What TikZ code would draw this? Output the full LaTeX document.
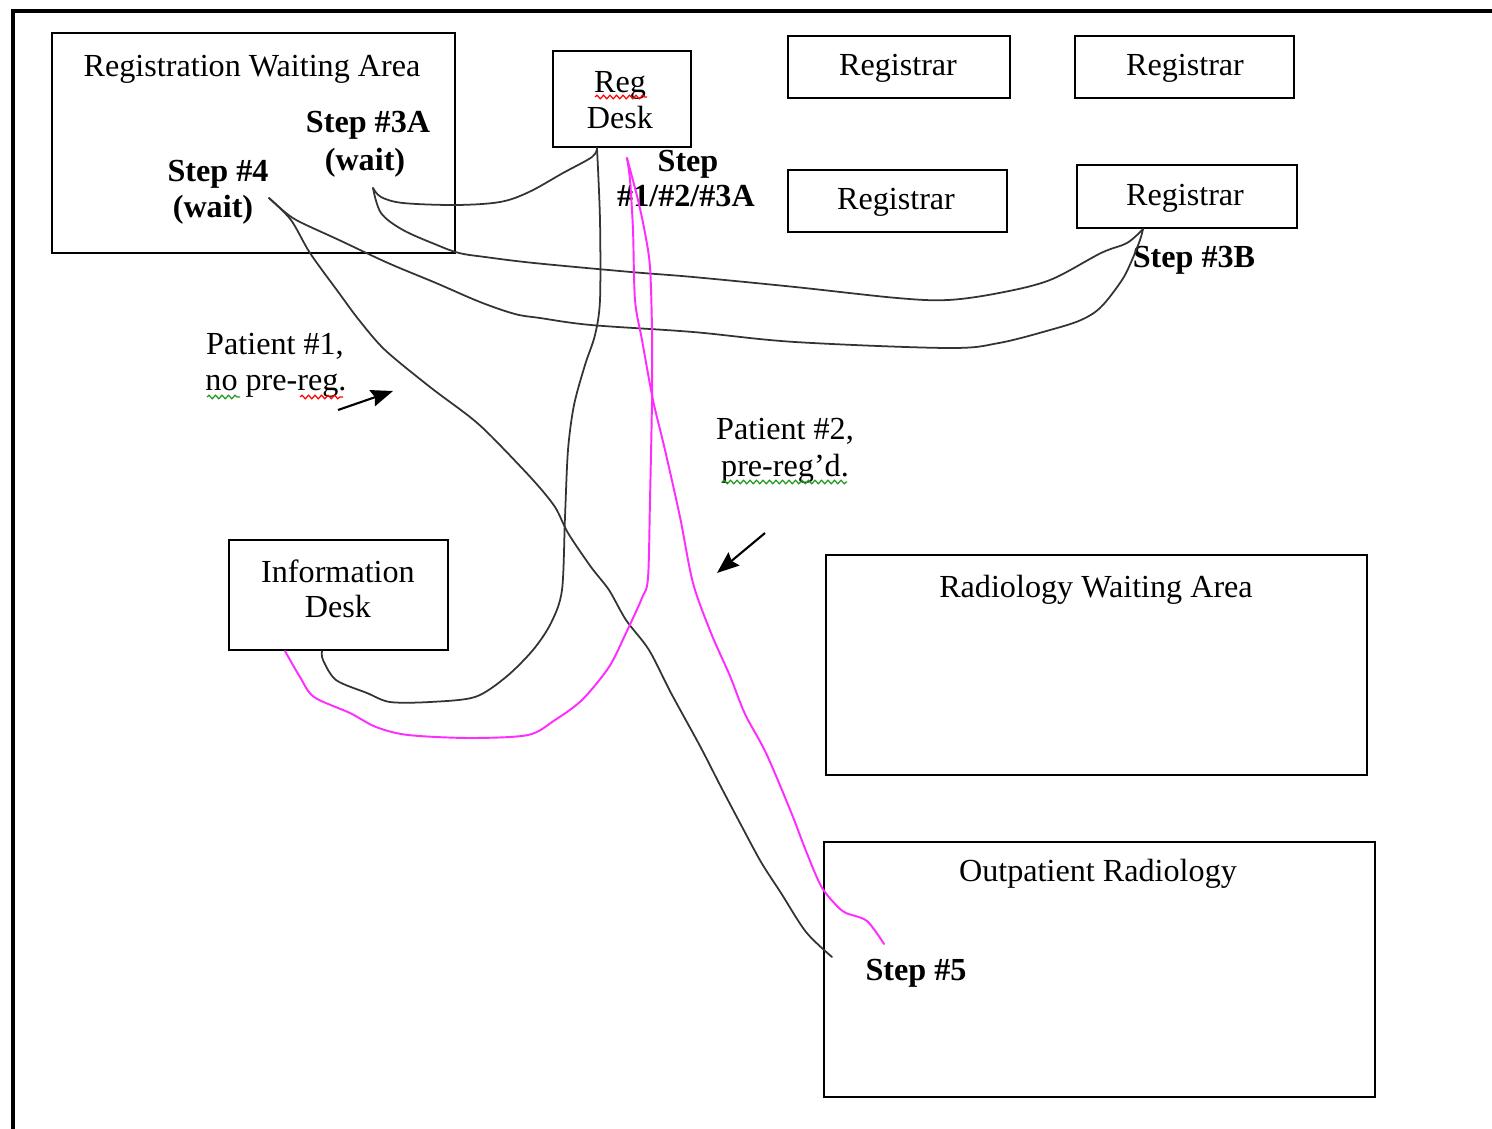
\documentclass[tikz,border=0pt]{standalone}
\usepackage{fontspec}
\setmainfont{Liberation Serif}
\usetikzlibrary{calc,arrows.meta,decorations.pathmorphing}

\definecolor{pen}{HTML}{333333}
\definecolor{hilite}{HTML}{FF2BFF}
\definecolor{spellgreen}{HTML}{1E9A1E}

\begin{document}
\begin{tikzpicture}[x=0.02cm,y=-0.02cm,
  area/.style={draw=black, line width=1.2pt, rectangle, inner sep=0pt},
  txt/.style={font=\fontsize{18.3}{20}\selectfont, inner sep=0pt, anchor=base},
  btxt/.style={font=\fontsize{18.3}{20}\selectfont\bfseries, inner sep=0pt, anchor=base},
  walk/.style={draw=pen, line width=1pt, line join=round, line cap=round},
  walkpink/.style={draw=hilite, line width=1.1pt, line join=round, line cap=round},
  pointer/.style={-{Stealth[length=0.44cm,width=0.34cm,inset=0.06cm]}, line width=1.2pt},
  squiggle/.style={line width=0.7pt, decorate,
    decoration={snake, amplitude=0.035cm, segment length=0.13cm}}
]
\useasboundingbox (0,0) rectangle (1492,1129);
\fill[white] (0,0) rectangle (1492,1129);

% page frame (top and left edges)
\draw[line width=2.7pt] (13,1129) -- (13,11) -- (1492,11);

% ---- rooms and desks ----
\node[area, minimum width=8.06cm, minimum height=4.4cm] (rwa) at (253.5,143) {};
\node[area, minimum width=2.76cm, minimum height=1.92cm] (regdesk) at (622,99) {};
\node[area, minimum width=4.44cm, minimum height=1.24cm] (reg1) at (899,67) {};
\node[area, minimum width=4.38cm, minimum height=1.24cm] (reg2) at (1184.5,67) {};
\node[area, minimum width=4.38cm, minimum height=1.24cm] (reg3) at (897.5,201) {};
\node[area, minimum width=4.40cm, minimum height=1.26cm] (reg4) at (1187,196.5) {};
\node[area, minimum width=4.38cm, minimum height=2.2cm] (info) at (338.5,595) {};
\node[area, minimum width=10.82cm, minimum height=4.4cm] (rad) at (1096.5,665) {};
\node[area, minimum width=11.02cm, minimum height=5.1cm] (opr) at (1099.5,969.5) {};

% ---- box titles ----
\node[txt] (trwa) at (252,76) {Registration Waiting Area};
\node[txt] (treg) at (620,92) {Reg};
\node[txt] (tdesk) at (620,128) {Desk};
\node[txt] (tr1) at (898,75) {Registrar};
\node[txt] (tr2) at (1185,75) {Registrar};
\node[txt] (tr3) at (896,209) {Registrar};
\node[txt] (tr4) at (1185,205) {Registrar};
\node[txt] (tinfo) at (338,582) {Information};
\node[txt] (tinfod) at (338,617) {Desk};
\node[txt] (trad) at (1096,597) {Radiology Waiting Area};
\node[txt] (topr) at (1098,881) {Outpatient Radiology};

% ---- step labels ----
\node[btxt] (s3a1) at (368,132) {Step \#3A};
\node[btxt] (s3a2) at (365,170) {(wait)};
\node[btxt] (s41) at (218,181) {Step \#4};
\node[btxt] (s42) at (213,217) {(wait)};
\node[btxt] (s121) at (688,171) {Step};
\node[btxt] (s122) at (686,206) {\#1/\#2/\#3A};
\node[btxt] (s3b) at (1194,267) {Step \#3B};
\node[btxt] (s5) at (916,980) {Step \#5};

% ---- patient labels ----
\node[txt] (p11) at (275,354) {Patient \#1,};
\node[txt] (p12) at (276,390) {no pre-reg.};
\node[txt] (p21) at (785,439) {Patient \#2,};
\node[txt] (p22) at (785,476) {pre-reg’d.};

% spelling marks under words
\draw[squiggle, red] (595,97) -- (647,97);
\draw[squiggle, spellgreen] (207,397) -- (240,397);
\draw[squiggle, red] (300,397) -- (343,397);
\draw[squiggle, spellgreen] (722,482) -- (847,482);

% ---- pointers ----
\coordinate (a1s) at (338,410);
\coordinate (a1e) at (393,391);
\coordinate (a2s) at (765,533);
\coordinate (a2e) at (717,573);
\draw[pointer] (a1s) -- (a1e);
\draw[pointer] (a2s) -- (a2e);

% ---- walking routes ----
\coordinate (w3a) at (373,188);
\coordinate (w4) at (269,198);
\coordinate (rdb) at ($(regdesk.south)+(-25,0)$);
\coordinate (r4b) at ($(reg4.south)+(-44,0)$);
\coordinate (ib) at ($(info.south)+(-16.5,0)$);
\coordinate (ibp) at ($(info.south)+(-53.5,0)$);
\coordinate (e5) at (832,957);
\coordinate (e5p) at (884,944);
\coordinate (pk) at (627,158);

% waiting area (3A) to reg desk
\draw[walk] plot[smooth, tension=0.55] coordinates {(w3a) (381,197) (403,203) (456,205)
  (500,202) (529,192) (563,173) (592,157) (rdb)};
% waiting area (3A) to registrar
\draw[walk] plot[smooth, tension=0.55] coordinates {(w3a) (381,213) (403,230) (437,245)
  (459,253) (485,257) (534,263) (631,272) (693,277) (795,287) (897,298) (948,300)
  (999,293) (1050,280) (1101,253) (1127,243) (r4b)};
% step 4 to registrar
\draw[walk] plot[smooth, tension=0.55] coordinates {(w4) (286,213) (300,222) (339,240)
  (388,263) (436,283) (480,302) (515,314) (540,318) (591,325) (693,332) (795,342)
  (948,348) (999,343) (1050,330) (1081,320) (1101,307) (1122,280) (1132,260)
  (1140,240) (r4b)};
% step 4 to outpatient radiology
\draw[walk] plot[smooth, tension=0.5] coordinates {(w4) (291,220) (310,253) (339,293)
  (359,320) (385,350) (430,387) (470,417) (492,437) (533,480) (555,507) (568,533)
  (591,567) (609,590) (626,620) (649,650) (671,693) (700,746) (720,785) (740,823)
  (761,862) (781,893) (806,932) (e5)};
% reg desk to information desk
\draw[walk] plot[smooth, tension=0.5] coordinates {(rdb) (600,220) (600,300) (595,335)
  (585,365) (574,405) (568,450) (565,517) (562,590) (551,623) (533,650) (506,677)
  (475,697) (430,702) (390,702) (367,693) (336,680) (323,660) (ib)};
% pre-registered patient: reg desk to information desk
\draw[walkpink] plot[smooth, tension=0.5] coordinates {(pk) (638,200) (645,233) (650,267)
  (652,330) (652,400) (650,500) (648,578) (642,598) (626,633) (609,667) (582,700)
  (555,720) (528,735) (470,738) (408,735) (376,727) (350,713) (314,697) (300,677)
  (ibp)};
% pre-registered patient: reg desk to outpatient radiology
\draw[walkpink] plot[smooth, tension=0.5] coordinates {(pk) (630,180) (633,230) (635,300)
  (642,340) (653,400) (665,450) (680,517) (693,583) (711,633) (730,676) (745,714)
  (766,753) (791,812) (806,851) (821,886) (836,905) (846,913) (867,921) (e5p)};
\end{tikzpicture}
\end{document}
